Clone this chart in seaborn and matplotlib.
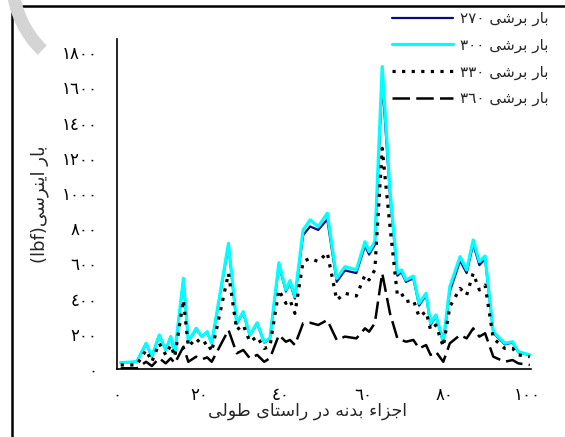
import numpy as np
import pandas as pd
import matplotlib
matplotlib.use("Agg")
import matplotlib.pyplot as plt
import matplotlib.patches as mpatches
import matplotlib.transforms as mtransforms
from matplotlib.ticker import FuncFormatter
import seaborn as sns

x_pos = [0.9, 4.8, 7.1, 8.5, 10.3, 11.9, 13.1, 14.1, 16.2, 17.4,
         19.3, 20.7, 22.0, 23.1, 27.2, 29.2, 30.8, 32.4, 34.2, 35.9,
         37.3, 39.5, 41.2, 42.2, 43.4, 45.4, 47.1, 49.1, 51.3, 53.6,
         55.6, 58.4, 60.5, 61.5, 62.9, 64.7, 66.6, 68.4, 69.4, 70.5,
         72.3, 73.7, 75.4, 76.5, 77.8, 79.6, 81.2, 83.7, 85.3, 86.9,
         88.4, 89.8, 91.8, 94.6, 96.5, 97.9, 100.7]
load_270 = [36, 41, 146, 70, 193, 108, 184, 89, 505, 155,
            225, 184, 208, 146, 700, 255, 320, 190, 258, 150,
            170, 590, 440, 490, 400, 760, 810, 790, 850, 495,
            560, 545, 700, 650, 705, 1640, 990, 530, 550, 495,
            515, 360, 420, 250, 300, 150, 440, 615, 545, 710,
            590, 625, 205, 140, 150, 95, 78]
load_300 = [36, 41, 146, 70, 193, 108, 184, 89, 515, 155,
            231, 184, 212, 146, 714, 260, 326, 193, 263, 155,
            174, 604, 449, 502, 411, 790, 847, 809, 885, 515,
            581, 563, 723, 667, 723, 1718, 1017, 544, 563, 506,
            528, 373, 430, 260, 307, 155, 468, 638, 563, 733,
            610, 642, 212, 146, 155, 98, 80]
load_330 = [23, 23, 108, 41, 146, 80, 136, 70, 392, 127,
            174, 136, 155, 98, 544, 222, 250, 155, 184, 117,
            127, 449, 373, 392, 316, 610, 629, 610, 661, 392,
            430, 415, 534, 506, 563, 1254, 809, 420, 430, 382,
            392, 297, 326, 222, 250, 127, 354, 458, 420, 544,
            449, 477, 174, 117, 117, 80, 70]
load_360 = [4, 4, 41, 17, 61, 32, 61, 32, 127, 41,
            70, 55, 66, 41, 222, 89, 108, 61, 80, 41,
            61, 193, 155, 165, 136, 260, 263, 250, 278, 165,
            184, 174, 231, 212, 260, 544, 316, 174, 165, 155,
            165, 117, 136, 80, 98, 41, 146, 193, 174, 231,
            184, 203, 70, 41, 51, 32, 23]
shear_loads = ["٢٧٠", "٣٠٠", "٣٣٠", "٣٦٠"]
x_ticks = [0, 20, 40, 60, 80, 100]
y_ticks = [0, 200, 400, 600, 800, 1000, 1200, 1400, 1600, 1800]

# arabic letters -> (isolated, final, initial, medial)
FORMS = {
    "ا": ("\uFE8D", "\uFE8E", None, None),
    "ب": ("\uFE8F", "\uFE90", "\uFE91", "\uFE92"),
    "ت": ("\uFE95", "\uFE96", "\uFE97", "\uFE98"),
    "ج": ("\uFE9D", "\uFE9E", "\uFE9F", "\uFEA0"),
    "د": ("\uFEA9", "\uFEAA", None, None),
    "ر": ("\uFEAD", "\uFEAE", None, None),
    "ز": ("\uFEAF", "\uFEB0", None, None),
    "س": ("\uFEB1", "\uFEB2", "\uFEB3", "\uFEB4"),
    "ش": ("\uFEB5", "\uFEB6", "\uFEB7", "\uFEB8"),
    "ط": ("\uFEC1", "\uFEC2", "\uFEC3", "\uFEC4"),
    "ل": ("\uFEDD", "\uFEDE", "\uFEDF", "\uFEE0"),
    "ن": ("\uFEE5", "\uFEE6", "\uFEE7", "\uFEE8"),
    "ه": ("\uFEE9", "\uFEEA", "\uFEEB", "\uFEEC"),
    "و": ("\uFEED", "\uFEEE", None, None),
    "ی": ("\uFEEF", "\uFEF0", "\uFEF3", "\uFEF4"),
    "ء": ("\uFE80", None, None, None),
}


def rtl(text):
    # shape the letters and put them in visual (left to right) order
    out = []
    for i, c in enumerate(text):
        if c not in FORMS:
            out.append(c)
            continue
        prev = text[i - 1] if i > 0 else None
        nxt = text[i + 1] if i + 1 < len(text) else None
        jp = FORMS[c][1] is not None and prev in FORMS and FORMS[prev][2] is not None
        jn = FORMS[c][2] is not None and nxt in FORMS and FORMS[nxt][1] is not None
        if jp and jn:
            out.append(FORMS[c][3])
        elif jp:
            out.append(FORMS[c][1])
        elif jn:
            out.append(FORMS[c][2])
        else:
            out.append(FORMS[c][0])
    return "".join(reversed(out))


def fa_digits(v):
    return str(int(v)).translate(str.maketrans("0123456789", "٠١٢٣٤٥٦٧٨٩"))


sns.set_theme(style="ticks")
plt.rcParams["font.family"] = ["DejaVu Sans"]

fig = plt.figure(figsize=(5.65, 4.37), dpi=100)
ax = fig.add_axes([117 / 565, 1 - 369 / 437, 414 / 565, 330 / 437])

colors = ["#0b0b80", "#00ffff", "black", "black"]
styles = ["-", "-", (0, (1, 2)), (0, (7, 2.5))]
widths = [1.6, 2.3, 2.3, 1.8]
series = [load_270, load_300, load_330, load_360]
for load, vals, c, ls, lw in zip(shear_loads, series, colors, styles, widths):
    sns.lineplot(x=x_pos, y=vals, ax=ax, color=c, linestyle=ls, linewidth=lw,
                 label=load + " " + rtl("بار برشی"))

ax.set_xlim(0, 101)
ax.set_ylim(0, 1875)
ax.set_xticks(x_ticks)
ax.set_yticks(y_ticks)
ax.xaxis.set_major_formatter(FuncFormatter(lambda v, p: fa_digits(v)))
ax.yaxis.set_major_formatter(FuncFormatter(lambda v, p: fa_digits(v)))
ax.tick_params(length=0, labelsize=12, colors="black")
ax.tick_params(axis="x", pad=12)
ax.tick_params(axis="y", pad=14)
sns.despine(ax=ax)
for s in ["left", "bottom"]:
    ax.spines[s].set_color("black")
    ax.spines[s].set_linewidth(1.2)

ax.set_xlabel(rtl("اجزاء بدنه در راستای طولی"), fontsize=12.5)
ax.xaxis.set_label_coords(0.461, -0.10)
ax.set_ylabel("(lbf)" + rtl("بار اینرسی"), fontsize=13, labelpad=9)

ax.legend(loc="upper left", bbox_to_anchor=(392 / 565, 1 - 11 / 437),
          bbox_transform=fig.transFigure, frameon=False, fontsize=11,
          handlelength=4.0, handletextpad=0.45, labelspacing=0.75,
          borderpad=0, borderaxespad=0)

# page frame and grey mark at the top left
fig.add_artist(mpatches.Rectangle((12 / 565, -0.1), 1.2, 1.1 - 6 / 437,
                                  transform=fig.transFigure, fill=False,
                                  edgecolor="black", linewidth=1.8, clip_on=False))
fig.add_artist(mpatches.Wedge((110, 437 + 20), 104, 185, 226, width=13,
                              transform=mtransforms.IdentityTransform(),
                              facecolor="#d4d4d4", edgecolor="none"))

fig.savefig("out.png", dpi=100)
